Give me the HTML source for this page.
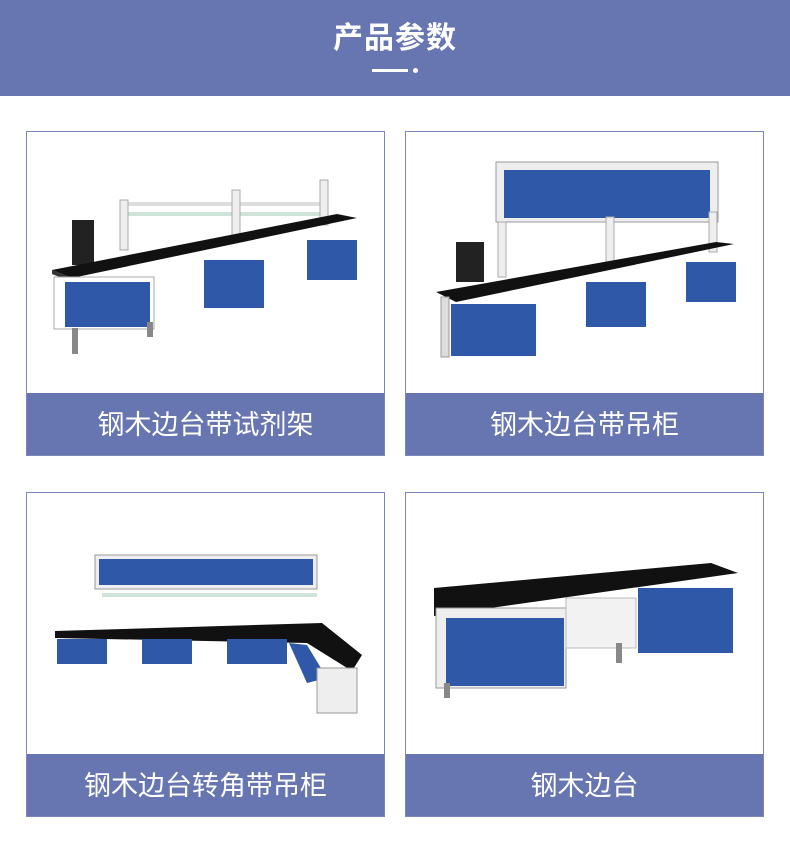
<!DOCTYPE html>
<html><head><meta charset="utf-8"><style>
*{margin:0;padding:0;box-sizing:border-box}
body{width:790px;height:846px;background:#fff;position:relative;overflow:hidden;font-family:"Liberation Sans","Noto Sans CJK SC",sans-serif}
.hd{position:absolute;left:0;top:0;width:790px;height:96px;background:#6775b1}
.hd h1{position:absolute;left:0;width:790px;top:19px;text-align:center;color:#fff;font-size:30px;font-weight:bold;letter-spacing:1px;line-height:40px}
.ln{position:absolute;left:372px;top:69px;width:36px;height:3px;background:#fff}
.dt{position:absolute;left:413px;top:68px;width:5px;height:5px;border-radius:50%;background:#fff}
.card{position:absolute;width:359px;height:325px;border:1px solid #7c86b8;background:#fff}
.cap{position:absolute;left:0;bottom:0;width:100%;height:62px;background:#6775b1;color:#fff;font-size:27px;text-align:center;line-height:64px}
svg{position:absolute;left:0;top:0}
</style></head><body>
<div class="hd"><h1>产品参数</h1><div class="ln"></div><div class="dt"></div></div>

<div class="card" style="left:26px;top:131px">
<svg width="357" height="262">
<rect x="95" y="70" width="205" height="4" fill="#ddd"/><rect x="95" y="80" width="205" height="4" fill="#cfe3d8"/>
<rect x="93" y="68" width="8" height="50" fill="#eee" stroke="#aaa"/><rect x="205" y="58" width="8" height="50" fill="#eee" stroke="#aaa"/><rect x="293" y="48" width="8" height="45" fill="#eee" stroke="#aaa"/>
<rect x="45" y="88" width="22" height="45" fill="#222"/>
<polygon points="25,138 310,82 330,86 45,146" fill="#111"/>
<polygon points="25,138 45,146 45,150 25,142" fill="#333"/>
<rect x="27" y="145" width="100" height="52" fill="#fff" stroke="#aaa"/><rect x="38" y="150" width="85" height="45" fill="#2f58a8"/>
<rect x="177" y="128" width="60" height="48" fill="#2f58a8"/><rect x="280" y="108" width="50" height="40" fill="#2f58a8"/>
<rect x="45" y="196" width="6" height="26" fill="#888"/><rect x="120" y="190" width="6" height="15" fill="#888"/>
</svg>
<div class="cap">钢木边台带试剂架</div></div>

<div class="card" style="left:405px;top:131px">
<svg width="357" height="262">
<rect x="90" y="30" width="222" height="60" fill="#eee" stroke="#999"/><rect x="98" y="38" width="206" height="48" fill="#2f58a8"/>
<rect x="92" y="90" width="8" height="55" fill="#eee" stroke="#aaa"/><rect x="200" y="85" width="8" height="50" fill="#eee" stroke="#aaa"/><rect x="303" y="80" width="8" height="40" fill="#eee" stroke="#aaa"/>
<rect x="50" y="110" width="28" height="40" fill="#222"/>
<polygon points="30,160 310,110 328,112 50,170" fill="#111"/>
<rect x="45" y="172" width="85" height="52" fill="#2f58a8"/><rect x="180" y="150" width="60" height="45" fill="#2f58a8"/><rect x="280" y="130" width="50" height="40" fill="#2f58a8"/>
<rect x="35" y="165" width="8" height="60" fill="#ddd" stroke="#999"/>
</svg>
<div class="cap">钢木边台带吊柜</div></div>

<div class="card" style="left:26px;top:492px">
<svg width="357" height="262">
<rect x="68" y="62" width="222" height="34" fill="#eee" stroke="#999"/><rect x="72" y="66" width="214" height="26" fill="#2f58a8"/>
<rect x="75" y="100" width="215" height="4" fill="#cfe3d8"/>
<polygon points="28,138 295,130 335,162 325,178 280,150 28,145" fill="#111"/>
<rect x="30" y="146" width="50" height="25" fill="#2f58a8"/><rect x="115" y="146" width="50" height="25" fill="#2f58a8"/><rect x="200" y="146" width="60" height="25" fill="#2f58a8"/>
<polygon points="262,150 280,152 300,185 280,190" fill="#2f58a8"/>
<rect x="290" y="175" width="40" height="45" fill="#eee" stroke="#999"/>
</svg>
<div class="cap">钢木边台转角带吊柜</div></div>

<div class="card" style="left:405px;top:492px">
<svg width="357" height="262">
<polygon points="28,95 305,70 332,80 28,123" fill="#111"/>
<rect x="30" y="115" width="130" height="80" fill="#eee" stroke="#999"/>
<rect x="40" y="125" width="118" height="68" fill="#2f58a8"/>
<rect x="160" y="105" width="70" height="50" fill="#f2f2f2" stroke="#bbb"/>
<rect x="232" y="95" width="95" height="65" fill="#2f58a8"/>
<rect x="38" y="190" width="6" height="15" fill="#888"/><rect x="210" y="150" width="6" height="20" fill="#888"/>
</svg>
<div class="cap">钢木边台</div></div>
</body></html>
